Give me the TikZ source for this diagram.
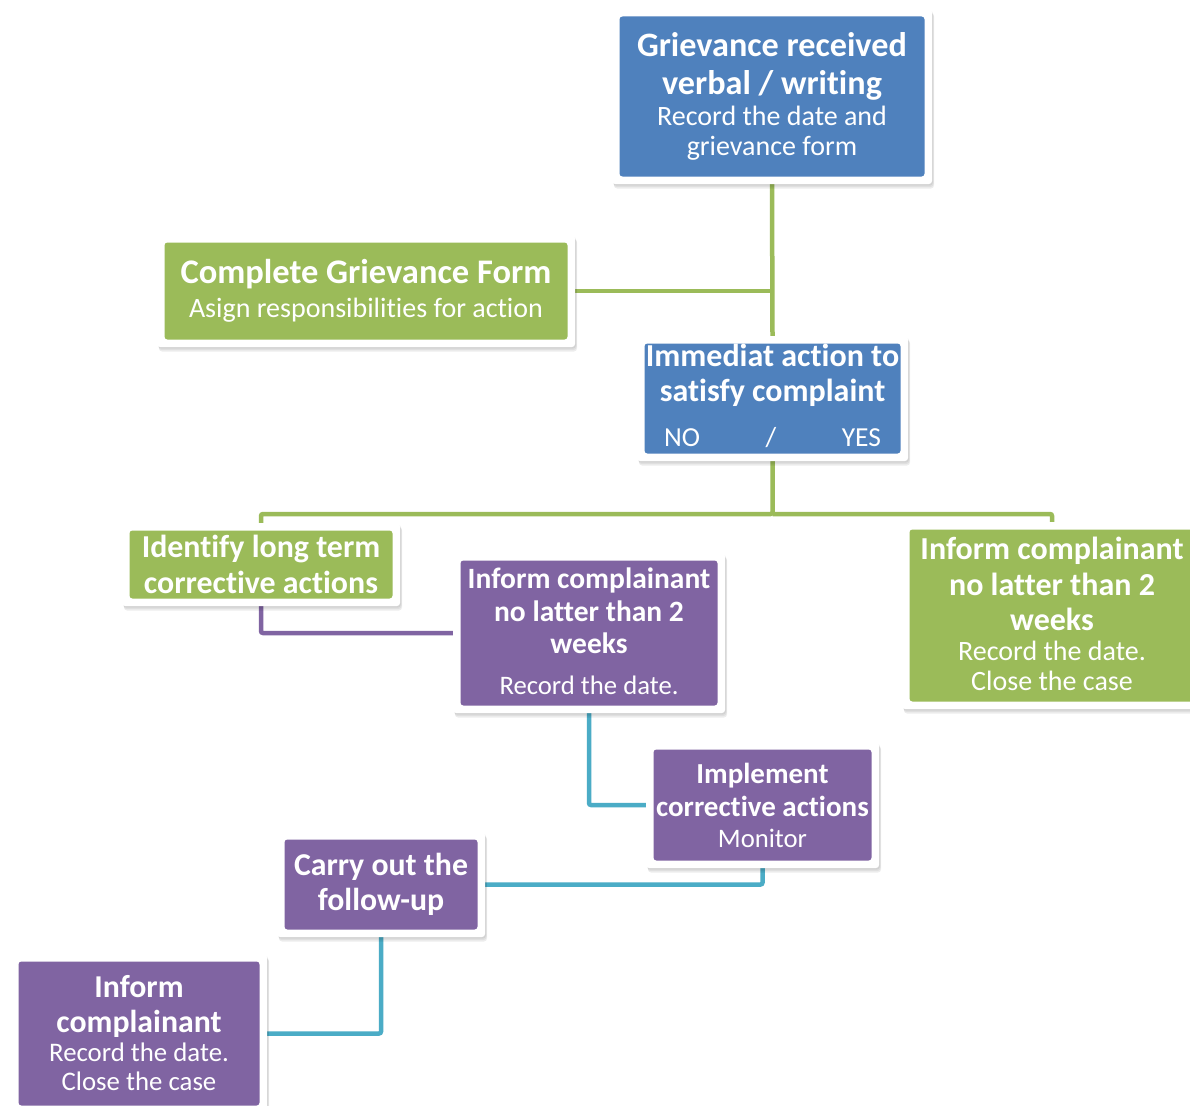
\documentclass[tikz,border=0pt]{standalone}
\usepackage{fontspec}
\setmainfont{Carlito}[Ligatures={NoCommon}]
\usetikzlibrary{shadows}
\definecolor{cblue}{HTML}{4F81BD}
\definecolor{cgreen}{HTML}{9BBB59}
\definecolor{cpurple}{HTML}{8064A2}
\definecolor{cteal}{HTML}{4BACC6}
\pgfdeclarelayer{background}
\pgfsetlayers{background,main}
\newcommand{\Bf}[2]{\fontsize{#1}{#2}\selectfont\bfseries\spaceskip=0.226em\relax}
\newcommand{\Rg}[2]{\fontsize{#1}{#2}\selectfont\mdseries\spaceskip=0.226em\relax}
\tikzset{
  box/.style={rectangle, rounded corners=3pt, fill=white, inner sep=0pt,
    align=flush center, text=white,
    general shadow={fill=black, opacity=0.05, shadow xshift=1pt, shadow yshift=-1.5pt},
    general shadow={fill=black, opacity=0.06, shadow xshift=1.5pt, shadow yshift=-3pt},
    general shadow={fill=black, opacity=0.07, shadow xshift=2pt, shadow yshift=-4.5pt},
    path picture={\fill[#1] ([shift={(7.5pt,-7.5pt)}]path picture bounding box.north west) rectangle ([shift={(-7.5pt,7.5pt)}]path picture bounding box.south east);}},
  conn/.style={line width=4.5pt, rounded corners=2pt, #1}
}
\begin{document}
\begin{tikzpicture}[x=1pt,y=-1pt]
\clip (0,0) rectangle (1190,1105);
\begin{pgfonlayer}{background}
\fill[white] (0,0) rectangle (1190,1105);
\end{pgfonlayer}

\node[box=cblue, minimum width=320pt, minimum height=175pt, text width=316pt] (top) at (772,96.5)
  {{\Bf{34.2}{38}Grievance received\\verbal / writing\par}\vspace{1pt}{\Rg{28}{30}Record the date and\\grievance form\par}};

\node[box=cgreen, minimum width=418pt, minimum height=112pt, text width=414pt] (form) at (366,291)
  {{\Bf{34.5}{38}Complete Grievance Form\par}{\Rg{28}{34}Asign responsibilities for action\par}};

\node[box=cblue, minimum width=271pt, minimum height=125pt, text width=267pt] (imm) at (772.5,398.5)
  {{\Bf{32}{35}Immediat action to\\satisfy complaint\par}\vspace{15pt}{\Rg{27.5}{30}\makebox[217pt]{NO\hfill/\hfill YES}\par}\vspace{5pt}};

\node[box=cgreen, minimum width=278pt, minimum height=83pt, text width=274pt] (ident) at (261,564.5)
  {{\Bf{31.9}{36}Identify long term\\corrective actions\par}};

\node[box=cpurple, minimum width=272pt, minimum height=160pt, text width=268pt] (inf1) at (589,633)
  {{\Bf{29.5}{32.5}Inform complainant\\no latter than 2\\weeks\par}\vspace{11pt}{\Rg{26.7}{30}Record the date.\par}\vspace{3pt}};

\node[box=cgreen, minimum width=300pt, minimum height=187pt, text width=296pt] (inf2) at (1052,615.5)
  {{\Bf{32}{35.5}Inform complainant\\no latter than 2\\weeks\par}{\Rg{28}{30}Record the date.\\Close the case\par}\vspace{3pt}};

\node[box=cpurple, minimum width=233pt, minimum height=126pt, text width=229pt] (impl) at (762.5,805)
  {{\Bf{29}{33}Implement\\corrective actions\par}{\Rg{26.7}{31}Monitor\par}};

\node[box=cpurple, minimum width=208pt, minimum height=105pt, text width=204pt] (carry) at (381,884.5)
  {{\Bf{31.8}{35}Carry out the\\follow-up\par}};

\node[box=cpurple, minimum width=256pt, minimum height=159pt, text width=252pt] (inf3) at (139,1033.5)
  {{\Bf{31.8}{35}Inform\\complainant\par}{\Rg{26.8}{29}Record the date.\\Close the case\par}};

\coordinate (j1) at (772.5,514);

\begin{pgfonlayer}{background}
\draw[conn=cgreen] (top.south) -- (imm.north);
\draw[conn=cgreen] (form.east) -- (form.east -| imm.north);
\draw[conn=cgreen] (imm.south) -- (j1) -| (ident.north);
\draw[conn=cgreen] (j1) -| (inf2.north);
\draw[conn=cpurple] (ident.south) |- (inf1.west);
\draw[conn=cteal] (inf1.south) |- (impl.west);
\draw[conn=cteal] (impl.south) |- (carry.east);
\draw[conn=cteal] (carry.south) |- (inf3.east);
\end{pgfonlayer}
\end{tikzpicture}
\end{document}
